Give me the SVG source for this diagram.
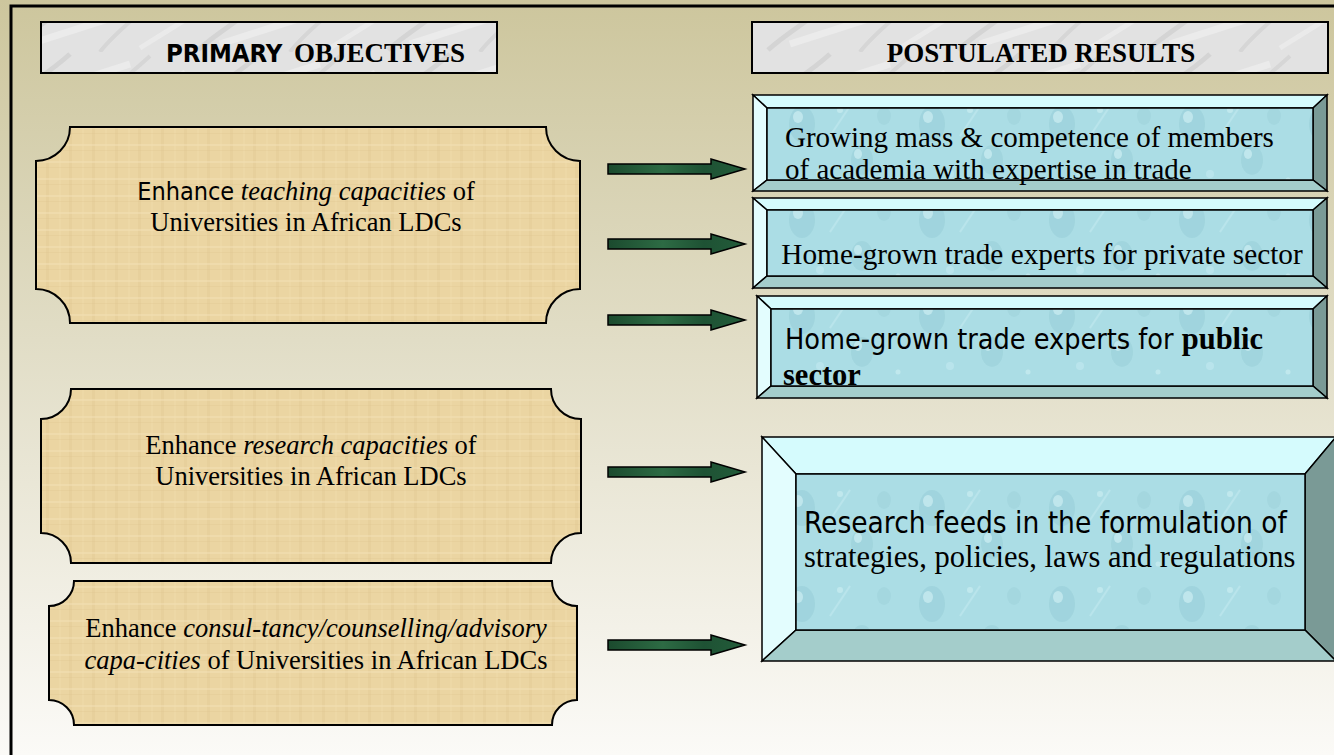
<svg xmlns="http://www.w3.org/2000/svg" width="1334" height="755" viewBox="0 0 1334 755">
<defs>
  <linearGradient id="bg" x1="0" y1="0" x2="0" y2="1">
    <stop offset="0" stop-color="#cdc69d"/>
    <stop offset="0.45" stop-color="#e1ddc6"/>
    <stop offset="1" stop-color="#fbfaf7"/>
  </linearGradient>
  <pattern id="marble" patternUnits="userSpaceOnUse" width="190" height="52">
    <rect width="190" height="52" fill="#e2e2e2"/>
    <path d="M8 50 C28 32 48 22 70 2" stroke="#c6c6c6" stroke-width="5" fill="none" opacity="0.5"/>
    <path d="M100 52 C112 36 128 24 150 4" stroke="#cacaca" stroke-width="4" fill="none" opacity="0.5"/>
    <path d="M30 44 L130 12" stroke="#f2f2f2" stroke-width="7" fill="none" opacity="0.6"/>
    <path d="M140 48 L185 20" stroke="#f0f0f0" stroke-width="5" fill="none" opacity="0.6"/>
  </pattern>
  <pattern id="papyrus" patternUnits="userSpaceOnUse" width="23" height="17">
    <rect width="23" height="17" fill="#ebd5a2"/>
    <rect x="0" y="0" width="3" height="17" fill="#dcc08a" opacity="0.25"/>
    <rect x="0" y="8" width="23" height="2" fill="#f4e4bb" opacity="0.4"/>
    <rect x="13" y="0" width="2" height="17" fill="#f2dfb0" opacity="0.3"/>
    <rect x="0" y="14" width="23" height="1" fill="#dcc08a" opacity="0.25"/>
  </pattern>
  <pattern id="water" patternUnits="userSpaceOnUse" width="130" height="96">
    <rect width="130" height="96" fill="#abdde5"/>
    <ellipse cx="22" cy="28" rx="13" ry="18" fill="#93cbd5" opacity="0.45"/>
    <ellipse cx="18" cy="21" rx="5" ry="6" fill="#d3f1f5" opacity="0.6"/>
    <ellipse cx="82" cy="64" rx="11" ry="15" fill="#95ccd6" opacity="0.45"/>
    <ellipse cx="78" cy="58" rx="4" ry="5" fill="#d6f3f6" opacity="0.6"/>
    <ellipse cx="104" cy="20" rx="7" ry="9" fill="#98ced8" opacity="0.4"/>
    <circle cx="60" cy="14" r="3" fill="#c9edf2" opacity="0.7"/>
    <circle cx="40" cy="78" r="4" fill="#c3eaf0" opacity="0.6"/>
    <circle cx="118" cy="84" r="2.5" fill="#c9edf2" opacity="0.7"/>
    <path d="M50 40 L70 10" stroke="#c8ecf1" stroke-width="2" opacity="0.5"/>
  </pattern>
  <linearGradient id="green" x1="0" y1="0" x2="1" y2="0">
    <stop offset="0" stop-color="#1b4a2e"/>
    <stop offset="0.4" stop-color="#2d6b44"/>
    <stop offset="0.7" stop-color="#1e5234"/>
    <stop offset="1" stop-color="#235c3a"/>
  </linearGradient>
  <style>
    .frame{fill:none;stroke:#000;stroke-width:3}
    .hdr{fill:url(#marble);stroke:#000;stroke-width:2}
    .scroll{fill:url(#papyrus);stroke:#000;stroke-width:2}
    .arrow{fill:url(#green);stroke:#000;stroke-width:1.5}
    .bv{stroke:#000;stroke-width:1.5;stroke-linejoin:miter}
    .top{fill:#d5fbfd}
    .left{fill:#e3fdfe}
    .right{fill:#7a9a96}
    .bot{fill:#a4cdcb}
    .inner{fill:url(#water)}
    .serif{font-family:"Liberation Serif","Times New Roman",serif;fill:#000}
    .sans{font-family:"DejaVu Sans Condensed","DejaVu Sans","Liberation Sans",sans-serif}
    .it{font-style:italic}
    .b{font-weight:bold}
  </style>
</defs>
<rect width="1334" height="755" fill="url(#bg)"/>
<rect class="frame" x="11" y="6" width="1340" height="770"/>

<g id="header-objectives">
  <rect class="hdr" x="41" y="22" width="456" height="51"/>
  <text class="serif b" y="62" font-size="27"><tspan class="sans" x="166" font-size="25.5">PRIMARY</tspan><tspan x="294">OBJECTIVES</tspan></text>
</g>
<g id="header-results">
  <rect class="hdr" x="752" y="22" width="576" height="51"/>
  <text class="serif b" x="1041" y="62" font-size="27" text-anchor="middle">POSTULATED RESULTS</text>
</g>

<g id="obj-teaching">
  <path class="scroll" d="M70,127 H546 A34,34 0 0 0 580,161 V289 A34,34 0 0 0 546,323 H70 A34,34 0 0 0 36,289 V161 A34,34 0 0 0 70,127 Z"/>
  <text class="serif" x="306" y="200" font-size="26.5" text-anchor="middle"><tspan class="sans" font-size="25">Enhance</tspan> <tspan class="it">teaching capacities</tspan> of</text>
  <text class="serif" x="306" y="231" font-size="26.5" text-anchor="middle">Universities in African LDCs</text>
</g>
<g id="obj-research">
  <path class="scroll" d="M71,389 H551 A30,30 0 0 0 581,419 V533 A30,30 0 0 0 551,563 H71 A30,30 0 0 0 41,533 V419 A30,30 0 0 0 71,389 Z"/>
  <text class="serif" x="311" y="454" font-size="26.5" text-anchor="middle">Enhance <tspan class="it">research capacities</tspan> of</text>
  <text class="serif" x="311" y="485" font-size="26.5" text-anchor="middle">Universities in African LDCs</text>
</g>
<g id="obj-consultancy">
  <path class="scroll" d="M74,581 H552 A25,25 0 0 0 577,606 V700 A25,25 0 0 0 552,725 H74 A25,25 0 0 0 49,700 V606 A25,25 0 0 0 74,581 Z"/>
  <text class="serif" x="316" y="637" font-size="26.5" text-anchor="middle">Enhance <tspan class="it">consul-tancy/counselling/advisory</tspan></text>
  <text class="serif" x="316" y="669" font-size="26.5" text-anchor="middle"><tspan class="it">capa-cities</tspan> of Universities in African LDCs</text>
</g>

<g id="connectors">
  <path class="arrow" d="M608,164 H711 V159 L745,169 L711,179 V174 H608 Z"/>
  <path class="arrow" d="M608,239 H711 V234 L745,244 L711,254 V249 H608 Z"/>
  <path class="arrow" d="M608,315 H711 V310 L745,320 L711,330 V325 H608 Z"/>
  <path class="arrow" d="M608,467 H711 V462 L745,472 L711,482 V477 H608 Z"/>
  <path class="arrow" d="M608,640 H711 V635 L745,645 L711,655 V650 H608 Z"/>
</g>

<g id="res-academia">
  <polygon class="bv top" points="753,95 1327,95 1313,108 767,108"/>
  <polygon class="bv left" points="753,95 767,108 767,180 753,191"/>
  <polygon class="bv right" points="1327,95 1327,191 1313,180 1313,108"/>
  <polygon class="bv bot" points="753,191 767,180 1313,180 1327,191"/>
  <rect class="bv inner" x="767" y="108" width="546" height="72"/>
  <text class="serif" x="785" y="147" font-size="29">Growing mass &amp; competence of members</text>
  <text class="serif" x="785" y="179" font-size="29">of academia with expertise in trade</text>
</g>
<g id="res-private">
  <polygon class="bv top" points="753,198 1327,198 1313,210 767,210"/>
  <polygon class="bv left" points="753,198 767,210 767,276 753,288"/>
  <polygon class="bv right" points="1327,198 1327,288 1313,276 1313,210"/>
  <polygon class="bv bot" points="753,288 767,276 1313,276 1327,288"/>
  <rect class="bv inner" x="767" y="210" width="546" height="66"/>
  <text class="serif" x="1042" y="264" font-size="29.3" text-anchor="middle">Home-grown trade experts for private sector</text>
</g>
<g id="res-public">
  <polygon class="bv top" points="757,296 1327,296 1313,309 771,309"/>
  <polygon class="bv left" points="757,296 771,309 771,386 757,398"/>
  <polygon class="bv right" points="1327,296 1327,398 1313,386 1313,309"/>
  <polygon class="bv bot" points="757,398 771,386 1313,386 1327,398"/>
  <rect class="bv inner" x="771" y="309" width="542" height="77"/>
  <text class="serif" x="785" y="349" font-size="30.5"><tspan class="sans" font-size="28.5">Home-grown trade experts for </tspan><tspan class="b">public</tspan></text>
  <text class="serif b" x="783" y="385" font-size="30.5">sector</text>
</g>
<g id="res-research">
  <polygon class="bv top" points="762,437 1336,437 1305,474 796,474"/>
  <polygon class="bv left" points="762,437 796,474 796,630 762,661"/>
  <polygon class="bv right" points="1336,437 1336,661 1305,630 1305,474"/>
  <polygon class="bv bot" points="762,661 796,630 1305,630 1336,661"/>
  <rect class="bv inner" x="796" y="474" width="509" height="156"/>
  <text class="sans" x="804" y="533" font-size="29.5">Research feeds in the formulation of</text>
  <text class="serif" x="804" y="567" font-size="30.5">strategies, policies, laws and regulations</text>
</g>
</svg>
